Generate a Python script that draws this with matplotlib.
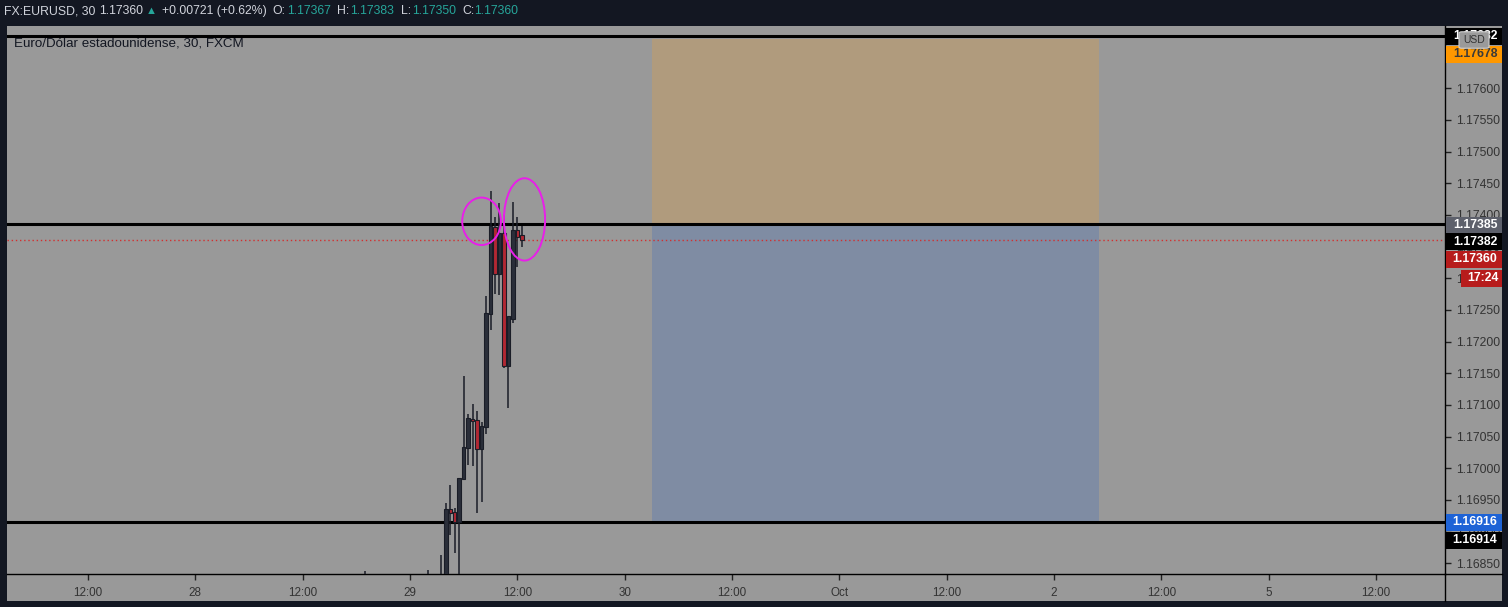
import matplotlib
matplotlib.use('Agg')
import matplotlib.pyplot as plt
from matplotlib.patches import Rectangle, Ellipse, FancyBboxPatch
import numpy as np

# ---- data (bar index: 0 = 29 Sep 00:00, 30-minute bars) ----
bar_idx = [-10, 4, 7, 8, 9, 10, 11, 12, 13, 14, 15, 16, 17, 18, 19, 20, 21, 22, 23, 24, 25]
opens = [1.16790, 1.16790, 1.16800, 1.16820, 1.16934, 1.16930, 1.16915, 1.16983, 1.17032, 1.17077, 1.17075,
         1.17030, 1.17066, 1.17243, 1.17380, 1.17307, 1.17370, 1.17162, 1.17236, 1.17376, 1.17367]
highs = [1.16838, 1.16839, 1.16863, 1.16946, 1.16974, 1.16937, 1.16983, 1.17146, 1.17086, 1.17102, 1.17091,
         1.17073, 1.17272, 1.17438, 1.17397, 1.17419, 1.17400, 1.17239, 1.17420, 1.17397, 1.17383]
lows = [1.16760, 1.16770, 1.16770, 1.16800, 1.16895, 1.16867, 1.16820, 1.16983, 1.17005, 1.17003, 1.16930,
        1.16947, 1.17054, 1.17218, 1.17276, 1.17273, 1.17159, 1.17096, 1.17230, 1.17318, 1.17350]
closes = [1.16810, 1.16800, 1.16815, 1.16934, 1.16929, 1.16915, 1.16983, 1.17032, 1.17078, 1.17074, 1.17030,
          1.17066, 1.17244, 1.17382, 1.17307, 1.17370, 1.17162, 1.17239, 1.17376, 1.17366, 1.17360]

hlines = [1.17682, 1.17385, 1.16916]
last_price = 1.17360
pos_start, pos_end = 54, 154          # position tool, in bars
pos_top, pos_entry, pos_bottom = 1.17678, 1.17385, 1.16916

time_ticks = [-72, -48, -24, 0, 24, 48, 72, 96, 120, 144, 168, 192, 216]
time_labels = ['12:00', '28', '12:00', '29', '12:00', '30', '12:00', 'Oct', '12:00', '2', '12:00', '5', '12:00']
price_ticks = np.arange(1.1685, 1.17601, 0.0005)

# price axis labels: text, box colour, text colour
axis_labels = ['1.17682', '1.17678', '1.17385', '1.17382', '1.17360', '17:24', '1.16916', '1.16914']
axis_label_bg = ['#000000', '#ff9800', '#5d606b', '#000000', '#b71c1c', '#b71c1c', '#1e63d6', '#000000']
axis_label_fg = ['white', '#3a3a3a', 'white', 'white', 'white', 'white', 'white', 'white']
axis_label_y = [36, 54, 225, 242, 259, 278, 522, 540]

W, H = 1508, 607
BG = '#131722'
PANEL = '#999999'
DARK = '#1a1d27'
FONT = ['Liberation Sans', 'DejaVu Sans']

fig = plt.figure(figsize=(W / 100, H / 100), dpi=100, facecolor=BG)

def fx(x):
    return x / W

def fy(y):
    return 1 - y / H

# gray panel behind everything
fig.patches.append(Rectangle((fx(7), fy(601)), fx(1495), 575 / H, transform=fig.transFigure,
                             facecolor=PANEL, edgecolor='none', zorder=-5))

ax = fig.add_axes([fx(7), fy(574), fx(1438), 548 / H], facecolor=PANEL)
ax.set_xlim(-90.1, 231.4)
ax.set_ylim(1.1683311, 1.1769837)

for s in ['top', 'left']:
    ax.spines[s].set_visible(False)
ax.spines['right'].set_color('black')
ax.spines['bottom'].set_color('black')
ax.spines['right'].set_linewidth(1)
ax.spines['bottom'].set_linewidth(1)

ax.yaxis.tick_right()
ax.set_yticks(price_ticks)
ax.set_yticklabels([f'{v:.5f}' for v in price_ticks])
ax.set_xticks(time_ticks)
ax.set_xticklabels(time_labels)
ax.tick_params(axis='y', direction='out', length=4, width=1, color='#222222', labelsize=8.7,
               labelcolor='#333333', pad=4)
ax.tick_params(axis='x', direction='out', length=4, width=1, color='#222222', labelsize=8.4,
               labelcolor='#333333', pad=5)
for lab in ax.get_xticklabels() + ax.get_yticklabels():
    lab.set_fontfamily(FONT)

# position tool rectangles
ax.add_patch(Rectangle((pos_start, pos_entry), pos_end - pos_start, pos_top - pos_entry,
                       facecolor='#b09b7d', edgecolor='none', zorder=1))
ax.add_patch(Rectangle((pos_start, pos_bottom), pos_end - pos_start, pos_entry - pos_bottom,
                       facecolor='#7f8ca3', edgecolor='none', zorder=1))

# horizontal lines
for lv in hlines:
    ax.axhline(lv, color='black', lw=2.2, zorder=3)
ax.axhline(last_price, color='#d32f2f', lw=1, ls=(0, (1, 2)), zorder=3)

# candles
o = np.array(opens)
c = np.array(closes)
up = c >= o
body_col = np.where(up, '#2a2e39', '#b22833')
ax.vlines(bar_idx, lows, highs, color=DARK, lw=1.1, zorder=4)
ax.bar(bar_idx, np.abs(c - o) + 0.00001, bottom=np.minimum(o, c), width=0.78,
       color=body_col, edgecolor=DARK, linewidth=0.8, zorder=5)

# annotations
ax.add_patch(Ellipse((16.0, 1.17390), 8.65, 0.00075, fill=False, edgecolor='#e91ee9', lw=1.4, zorder=6))
ax.add_patch(Ellipse((25.6, 1.17393), 9.2, 0.00130, fill=False, edgecolor='#e91ee9', lw=1.4, zorder=6))

# lines extending axes frame into the scale areas
fig.add_artist(plt.Line2D([fx(1445), fx(1445)], [fy(574), fy(601)], color='black', lw=1))
fig.add_artist(plt.Line2D([fx(1445), fx(1502)], [fy(574), fy(574)], color='black', lw=1))

# price axis labels
for txt, bg, fg, yy in zip(axis_labels, axis_label_bg, axis_label_fg, axis_label_y):
    x0 = 1461 if txt == '17:24' else 1446
    fig.patches.append(Rectangle((fx(x0), fy(yy + 8.5)), fx(1502 - x0), 17 / H, transform=fig.transFigure,
                                 facecolor=bg, edgecolor='none', zorder=5))
    fig.text(fx((x0 + 1502) / 2 + 1), fy(yy), txt, color=fg, fontsize=8.8, fontweight='bold',
             ha='center', va='center', family=FONT, zorder=6)

# USD button
fig.patches.append(FancyBboxPatch((fx(1462), fy(47)), fx(24), 14 / H, transform=fig.transFigure,
                                  boxstyle='round,pad=0.002', facecolor='#9a9a9a', edgecolor='#cfcfcf',
                                  lw=0.8, zorder=7))
fig.text(fx(1474), fy(40), 'USD', color='#333333', fontsize=7.5, ha='center', va='center',
         family=FONT, zorder=8)

# header
teal = '#26a69a'
hdr = [(4, 'FX:EURUSD, 30', '#d1d4dc'), (99, '1.17360', '#d1d4dc'), (146, '\u25b2', teal),
       (162, '+0.00721 (+0.62%)', '#d1d4dc'), (272, 'O:', '#d1d4dc'), (287, '1.17367', teal),
       (337, 'H:', '#d1d4dc'), (350, '1.17383', teal), (401, 'L:', '#d1d4dc'), (412, '1.17350', teal),
       (462, 'C:', '#d1d4dc'), (474, '1.17360', teal)]
for x, t, col in hdr:
    fs = 8 if t == '\u25b2' else 8.8
    fig.text(fx(x), fy(11), t, color=col, fontsize=fs, ha='left', va='center', family=FONT)

fig.text(fx(14), fy(44), 'Euro/Dólar estadounidense, 30, FXCM', color='#131722', fontsize=9.6,
         ha='left', va='center', family=FONT, zorder=10)

fig.savefig('out.png', dpi=100, facecolor=BG)
